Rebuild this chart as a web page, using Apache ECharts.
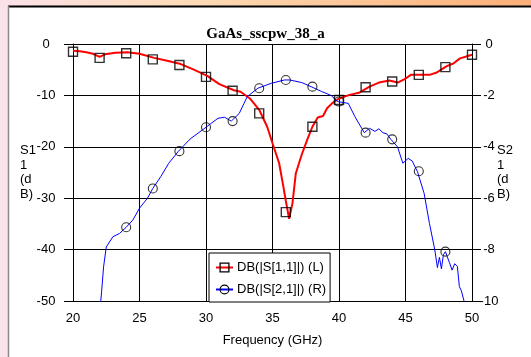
<!DOCTYPE html>
<html>
<head>
<meta charset="utf-8">
<script src="https://cdn.jsdelivr.net/npm/echarts@6/dist/echarts.min.js"></script>
<style>
  html, body { margin: 0; padding: 0; background: #fff; }
  #chart { width: 531px; height: 357px; }
</style>
</head>
<body>
<div id="chart"></div>
<script>
// S11 trace (left axis)
const s11Freq = [20.0, 20.5, 21.0, 21.5, 22.0, 22.4, 23.2, 24.1, 25.0, 26.1, 27.0, 28.1, 29.0, 30.1, 31.0, 32.1, 32.6, 33.3, 34.0, 34.6, 35.0, 35.5, 35.8, 36.0, 36.25, 36.5, 36.75, 37.2, 37.6, 38.0, 38.4, 38.8, 39.1, 39.5, 40.0, 40.8, 41.5, 42.3, 43.0, 43.8, 44.4, 44.9, 45.4, 46.0, 46.8, 47.3, 48.1, 48.6, 49.1, 50.0];
const s11Db = [-1.3, -1.4, -1.6, -1.9, -2.5, -2.0, -1.7, -1.6, -1.9, -2.7, -3.2, -3.9, -4.9, -6.2, -7.8, -9.0, -9.3, -10.6, -12.8, -16.1, -19.3, -23.2, -27.5, -30.5, -34.0, -31.0, -25.2, -21.5, -18.7, -16.1, -14.3, -14.0, -12.5, -11.5, -10.6, -9.9, -9.5, -8.3, -7.5, -7.1, -7.5, -6.9, -6.0, -6.0, -6.0, -5.6, -4.3, -3.8, -2.8, -2.1];
const s11MarkFreq = [20, 22, 24, 26, 28, 30, 32, 34, 36, 38, 40, 42, 44, 46, 48, 50];
const s11MarkDb = [-1.5, -2.7, -1.8, -3.0, -4.1, -6.4, -9.1, -13.5, -32.7, -16.1, -10.9, -8.4, -7.3, -6.0, -4.5, -2.1];

// S21 trace (right axis)
const s21Freq = [22.0, 22.15, 22.3, 22.5, 23.0, 23.5, 24.0, 24.5, 25.0, 25.6, 26.0, 26.6, 27.2, 27.9, 28.8, 30.0, 30.9, 31.4, 31.9, 32.5, 33.1, 33.9, 34.9, 35.9, 36.3, 37.2, 37.9, 38.7, 39.4, 39.9, 40.7, 41.2, 41.9, 42.3, 42.7, 43.0, 43.3, 43.6, 43.9, 44.4, 44.8, 45.2, 45.5, 45.9, 46.4, 46.8, 47.2, 47.4, 47.55, 47.7, 47.85, 48.0, 48.3, 48.5, 48.7, 48.9, 49.05, 49.2, 49.4, 49.6];
const s21Db = [-10.5, -9.64, -8.67, -7.9, -7.5, -7.37, -7.13, -6.85, -6.39, -6.0, -5.62, -5.16, -4.64, -4.19, -3.7, -3.24, -2.89, -2.85, -3.0, -2.7, -2.05, -1.72, -1.53, -1.40, -1.40, -1.5, -1.66, -1.85, -2.0, -2.24, -2.31, -2.83, -3.45, -3.28, -3.4, -3.3, -3.45, -3.5, -3.71, -4.0, -4.64, -4.45, -4.55, -4.97, -5.81, -6.98, -8.0, -8.7, -8.3, -8.75, -8.2, -8.08, -8.5, -8.8, -8.55, -8.65, -9.44, -9.6, -10.0, -10.5];
const s21MarkFreq = [24, 26, 28, 30, 32, 34, 36, 38, 40, 42, 44, 46, 48];
const s21MarkDb = [-7.13, -5.62, -4.17, -3.24, -3.0, -1.72, -1.40, -1.66, -2.24, -3.45, -3.71, -4.95, -8.08];

const leftTicks = [0, -10, -20, -30, -40, -50];
const rightTicks = [0, -2, -4, -6, -8, -10];

function pairs(xs, ys) {
  return xs.map((x, i) => [x, ys[i]]);
}

const font = 'Liberation Sans, Arial, sans-serif';
const hollow = { color: 'rgba(0,0,0,0)', borderColor: '#000', borderWidth: 1.3 };
const chart = echarts.init(document.getElementById('chart'));

chart.setOption({
  animation: false,
  backgroundColor: '#fff',
  title: {
    text: 'GaAs_sscpw_38_a',
    left: 'center',
    top: 22,
    textStyle: { fontFamily: 'Liberation Serif, Times New Roman, serif', fontSize: 15, fontWeight: 'bold', color: '#000' }
  },
  graphic: [
    // frame decoration round the plot window
    { type: 'rect', shape: { x: 0, y: 0, width: 8, height: 357 }, style: { fill: '#fbe3ec' }, silent: true },
    {
      type: 'rect', shape: { x: 0, y: 0, width: 531, height: 6 }, silent: true,
      style: {
        fill: new echarts.graphic.LinearGradient(0, 0, 1, 0, [
          { offset: 0, color: '#fbe1ea' },
          { offset: 0.35, color: '#fddbb6' },
          { offset: 1, color: '#fbaf78' }
        ])
      }
    },
    { type: 'line', shape: { x1: 8, y1: 6.5, x2: 531, y2: 6.5 }, style: { stroke: '#000', lineWidth: 2 }, silent: true },
    { type: 'line', shape: { x1: 8.5, y1: 6, x2: 8.5, y2: 357 }, style: { stroke: '#8a8a8a', lineWidth: 1.5 }, silent: true }
  ],
  legend: {
    orient: 'vertical',
    left: 209,
    top: 253,
    padding: [8, 4, 6, 6],
    itemGap: 9,
    itemWidth: 17,
    itemHeight: 11,
    backgroundColor: '#fff',
    borderColor: '#000',
    borderWidth: 1,
    borderRadius: 0,
    textStyle: { fontFamily: font, fontSize: 13, color: '#000', padding: [0, 0, 0, -1] },
    data: [
      { name: 'DB(|S[1,1]|) (L)', itemStyle: hollow },
      { name: 'DB(|S[2,1]|) (R)', itemStyle: { color: 'rgba(0,0,0,0)', borderColor: '#000', borderWidth: 1.1 } }
    ]
  },
  grid: { left: 73, right: 59, top: 44, bottom: 56 },
  xAxis: {
    type: 'value',
    min: 20,
    max: 50,
    interval: 5,
    name: 'Frequency (GHz)',
    nameLocation: 'middle',
    nameGap: 33,
    nameMoveOverlap: false,
    nameTextStyle: { fontFamily: font, fontSize: 13, color: '#000' },
    axisLine: { lineStyle: { color: '#000', width: 1 } },
    axisTick: { length: 8, lineStyle: { color: '#000' } },
    axisLabel: { margin: 11, fontFamily: font, fontSize: 13, color: '#000' },
    splitLine: { lineStyle: { color: '#000', width: 1 } }
  },
  yAxis: [
    {
      type: 'value',
      min: leftTicks[leftTicks.length - 1],
      max: leftTicks[0],
      interval: 10,
      name: 'S1\n1\n(d\nB)',
      nameLocation: 'middle',
      nameRotate: 0,
      nameGap: 53,
      nameMoveOverlap: false,
      nameTextStyle: { fontFamily: font, fontSize: 13, color: '#000', align: 'left', lineHeight: 14.5, padding: [0, 0, 8, 0] },
      axisLine: { show: true, lineStyle: { color: '#000', width: 1 } },
      axisTick: { show: true, length: 9, lineStyle: { color: '#000' } },
      axisLabel: { margin: 27, align: 'center', fontFamily: font, fontSize: 13, color: '#000' },
      splitLine: { lineStyle: { color: '#000', width: 1 } }
    },
    {
      type: 'value',
      position: 'right',
      min: rightTicks[rightTicks.length - 1],
      max: rightTicks[0],
      interval: 2,
      name: 'S2\n1\n(d\nB)',
      nameLocation: 'middle',
      nameRotate: 0,
      nameGap: 25,
      nameMoveOverlap: false,
      nameTextStyle: { fontFamily: font, fontSize: 13, color: '#000', align: 'left', lineHeight: 14.5, padding: [0, 0, 8, 0] },
      axisLine: { show: true, lineStyle: { color: '#000', width: 1 } },
      axisTick: { show: true, length: 9, lineStyle: { color: '#000' } },
      axisLabel: { margin: 17, align: 'center', fontFamily: font, fontSize: 13, color: '#000' },
      splitLine: { show: false }
    }
  ],
  series: [
    {
      name: 'DB(|S[1,1]|) (L)',
      type: 'line',
      yAxisIndex: 0,
      data: pairs(s11Freq, s11Db),
      symbol: 'rect',
      symbolSize: 9,
      showSymbol: false,
      itemStyle: hollow,
      lineStyle: { color: '#ff0000', width: 2 },
      z: 3
    },
    {
      name: 'DB(|S[2,1]|) (R)',
      type: 'line',
      yAxisIndex: 1,
      data: pairs(s21Freq, s21Db),
      symbol: 'circle',
      symbolSize: 9,
      showSymbol: false,
      itemStyle: { color: 'rgba(0,0,0,0)', borderColor: '#000', borderWidth: 1.1 },
      lineStyle: { color: '#0000ff', width: 1 },
      z: 3
    },
    {
      name: 's11 markers',
      type: 'scatter',
      yAxisIndex: 0,
      data: pairs(s11MarkFreq, s11MarkDb),
      symbol: 'rect',
      symbolSize: 9,
      itemStyle: { color: 'rgba(0,0,0,0)', borderColor: '#000', borderWidth: 1.4 },
      z: 4
    },
    {
      name: 's21 markers',
      type: 'scatter',
      yAxisIndex: 1,
      data: pairs(s21MarkFreq, s21MarkDb),
      symbol: 'circle',
      symbolSize: 9,
      itemStyle: { color: 'rgba(0,0,0,0)', borderColor: '#000', borderWidth: 1.1 },
      z: 4
    }
  ]
});
</script>
</body>
</html>
